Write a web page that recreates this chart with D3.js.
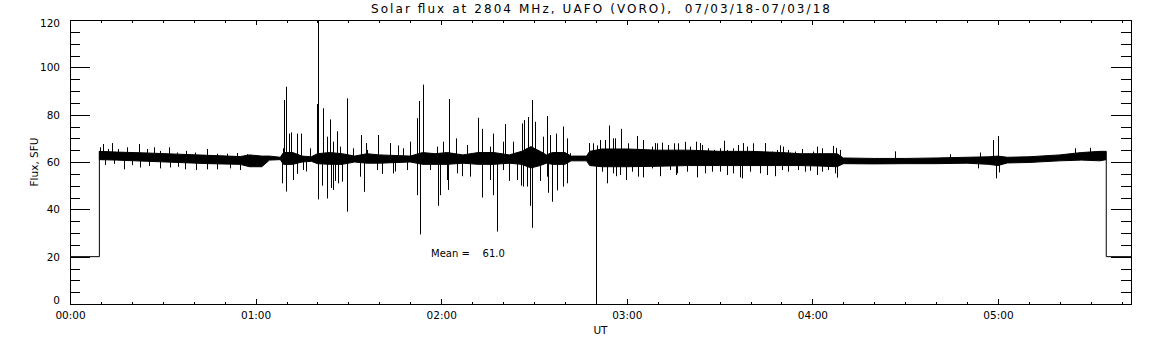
<!DOCTYPE html>
<html>
<head>
<meta charset="utf-8">
<script src="https://cdn.jsdelivr.net/npm/d3@7"></script>
<style>
  body { margin: 0; background: white; }
  text { font-family: "DejaVu Sans", sans-serif; fill: black; }
</style>
</head>
<body>
<div id="chart"></div>
<script>
// Chart values (time in minutes after 00:00 UT, flux in SFU)
const titleText = 'Solar flux at 2804 MHz, UAFO (VORO),  07/03/18-07/03/18';
const yTitle = 'Flux, SFU',
      xTitle = 'UT';
const meanValue = 61.0;

const xMajor = [0, 60, 120, 180, 240, 300];
const yMajor = [0, 20, 40, 60, 80, 100, 120];

// level of the signal before the start and after the end of the recording
const offLevel = 20;
const recStart = 9.5,
      recEnd = 335;

// envelope of the dense core of the noise
const bandMin  = [9.5, 15, 25, 35, 45, 55, 58, 62, 64.5, 68, 69, 72, 75, 78, 80, 84, 88, 92, 96, 100, 110, 114, 118, 122, 127, 132, 137, 142, 146, 149, 152, 154, 156, 160, 162, 167, 168, 172, 180, 190, 200, 210, 220, 230, 236, 242, 248, 250, 260, 270, 280, 290, 297, 300, 303, 310, 320, 327, 333, 335];
const bandLow  = [61, 60.8, 60.3, 59.8, 59.3, 59, 58, 58, 60.8, 61, 59, 59, 60, 60.3, 59.3, 59, 59, 60, 59.5, 59.5, 60, 59, 59, 59, 59.5, 59, 59, 59.5, 59, 57.5, 58.5, 59.5, 59, 59, 60.5, 60.5, 58.5, 58, 58, 58.2, 58.5, 58.5, 58.5, 58.5, 58.5, 58.3, 58, 59.3, 59.2, 59.3, 59.3, 59.5, 59, 58.5, 59.6, 59.8, 60.5, 60.8, 60.5, 61];
const bandHigh = [64.5, 64.2, 63.8, 63.3, 62.8, 62.3, 63, 62.5, 62.5, 62, 64, 64, 62.5, 62.2, 63.5, 64, 63.5, 62.5, 63.5, 63, 62.5, 64, 63.5, 64, 63, 64, 64, 63, 64.5, 66.5, 64.5, 63, 64, 64, 62.5, 62.5, 64.5, 65.5, 65.5, 65, 65, 64.5, 64.5, 64, 63.5, 63.5, 63.5, 61.7, 61.5, 61.5, 61.7, 62, 62.2, 62.5, 62, 62.2, 63, 64, 64.5, 64.5];

// spikes above the core
const upTime  = [
  9.7, 10.6, 12.4, 13.5, 15.6, 18.3, 22.4, 24.8, 27.2, 29.1, 32.1, 34.5, 37.5, 40.4, 44.2, 47.4, 50.7, 53.9, 57.1,
  69.0, 69.3, 69.9, 70.8, 71.6, 73.4, 74.7, 77.6, 79.8, 80.1, 80.3, 81.7, 83.0, 84.1, 85.1, 86.2, 87.3, 89.7, 91.6,
  94.0, 95.6, 95.9, 99.6, 103.5, 106, 107.8, 109.9, 112.2, 112.9, 114.1, 118.6, 120.7, 122.6, 124.8, 128.3, 132.0,
  133.2, 135.8, 136.8, 140.1, 140.7, 143.3, 146.0, 146.9, 148.1, 149.5, 150.3, 153.0, 154.2, 155.2, 157.1, 159.5,
  160.7, 161.7, 167.8, 169.2, 170.4, 171.3, 173.0, 174.3, 175.6, 176.2, 178.1, 180.5, 183.2, 185.4, 188.1, 189.1,
  189.7, 191.3, 193.4, 195.1, 196.7, 198.8, 200.4, 202.4, 203.7, 204.2, 206.4, 208.2, 210.1, 211.4, 212.3, 214.4,
  216.1, 217.6, 218.8, 220.9, 224.2, 224.7, 226.9, 228.5, 229.5, 230.6, 231.7, 232.2, 232.8, 234.4, 236.6, 238.7,
  240.3, 241.5, 243.0, 244.6, 246.7, 247.7, 248.9, 266.7, 284.5, 294.2, 298.4, 300.1, 325, 329.8];
const upValue = [
  66.2, 67.6, 65.5, 68, 65.5, 66.2, 67.6, 65.5, 66.2, 64.7, 66.2, 64, 64.7, 64, 65.5, 63.5, 63.5, 63.8, 63.3,
  65.8, 86.2, 91.8, 72, 72.5, 72, 72, 65.8, 84.5, 120, 84, 82.7, 70.7, 78, 68.6, 73, 66.5, 86.9, 65.8,
  71.4, 68, 65.1, 71.4, 68, 67, 65.8, 68.6, 78.5, 85.8, 92.7, 66.5, 68.6, 86.6, 70, 67.2, 78.7,
  74, 66.5, 72, 68.6, 76, 68.6, 76.3, 77.7, 79, 86.2, 77, 70.7, 79.4, 71.4, 72, 75,
  70, 63.7, 68, 67.9, 67, 69.3, 69.3, 75.4, 70, 70, 74, 67.9, 71, 69.3, 66.5, 68,
  67.9, 68.2, 67.2, 67.9, 67.9, 68.5, 66.5, 68.6, 68, 67.2, 65.8, 65.1, 65.8, 69, 65.1, 65.8,
  67.2, 68, 66.5, 67.9, 63.7, 68, 64.4, 65.1, 67, 66.5, 63.7, 65.1, 63.9, 64.4, 65.5, 63.7,
  64.4, 66.5, 65.8, 63.7, 66.8, 66, 65.1, 64.5, 63.3, 64, 69.3, 71, 65.8, 66];

// spikes below the core
const downTime  = [
  11.3, 14.2, 17.5, 19.9, 22.6, 25.6, 29.1, 32.3, 35, 37.2, 40.7, 44.2, 47.4, 51.7, 55,
  68.6, 69.8, 72.2, 73.4, 75.4, 76.3, 80.3, 81.4, 81.5, 83.2, 84.4, 85.1, 85.7, 86.7, 87.9, 89.7, 93.8, 95.1,
  99.2, 100.9, 104.5, 105.1, 108.9, 112.2, 113.3, 116.4, 119.1, 119.6, 121.8, 122.3, 125.0, 126.7, 129.3,
  133.1, 135.8, 136.7, 138.1, 140.1, 141.9, 144.4, 145.8, 146.6, 147.8, 148.8, 149.5, 152, 154.1, 154.5,
  155.9, 157.4, 159.5, 160.6, 170.2, 171.9, 173.7, 175.7, 176.5, 177.8, 179.8, 181.6, 183.7, 185.3, 188.1,
  190.7, 194.0, 195.9, 196.1, 199.4, 202.6, 202.7, 205.3, 207.5, 210.1, 212.3, 214.4, 216.6, 217.2, 219.8,
  223.1, 225.2, 227.9, 230.1, 232.2, 235.5, 237.6, 239.2, 241.5, 243.0, 245.2, 247.3, 247.9, 293.5, 299.3, 300.4];
const downValue = [
  58.7, 59.2, 56.9, 58.7, 57.7, 58.3, 57.3, 57.7, 58, 56.9, 56.6, 56.9, 56.9, 57.3, 56.6,
  51, 47.5, 52.4, 55, 56.6, 56, 44.2, 52.4, 50, 44.6, 49, 48.2, 52, 51, 51.7, 39, 53.8, 47.4,
  56.6, 55, 55.2, 56, 56.6, 46, 29.4, 56.6, 41.5, 46, 52.4, 48.2, 55.2, 54, 53.8,
  45, 52.4, 46, 30.6, 56.6, 52, 52.4, 50, 49.6, 49.6, 41.5, 32.2, 52, 53.8, 47,
  43.2, 48, 49.6, 51, 0, 55.9, 51, 55.2, 54, 54.5, 52.4, 55.9, 53.8, 53.5, 57.3,
  54, 56.6, 54.5, 55.2, 55.9, 53.8, 53.5, 55.2, 55.9, 55.9, 54.5, 55.2, 53.5, 53.1, 55.9,
  55.2, 54.5, 54, 56.6, 55.9, 56.6, 55.9, 56.3, 54.5, 55.9, 56.6, 55.2, 53.4, 57.3, 53.1, 55.6];

const width = 1152,
      height = 345;
const margin = { top: 20, right: 21, bottom: 41, left: 70 };

const svg = d3.select('#chart').append('svg')
    .attr('width', width)
    .attr('height', height)
    .style('background', 'white');

const x = d3.scaleLinear()
    .domain([0, 343])
    .range([margin.left, width - margin.right]);

const y = d3.scaleLinear()
    .domain([0, 120])
    .range([height - margin.bottom, margin.top]);

const hhmm = m => d3.format('02d')(Math.floor(m / 60)) + ':' + d3.format('02d')(m % 60);

// minor tick positions
const xMinor = d3.range(0, 343, 10).filter(d => d % 60 !== 0);
const yMinor = d3.range(0, 121, 5).filter(d => d % 20 !== 0);

// Trace: off level, noise core, spikes
const band = bandMin.map((m, i) => ({ m: m, lo: bandLow[i], hi: bandHigh[i] }));

svg.append('path')
    .datum(band)
    .attr('fill', 'black')
    .attr('stroke', 'black')
    .attr('stroke-width', 1)
    .attr('d', d3.area().x(d => x(d.m)).y0(d => y(d.lo)).y1(d => y(d.hi)));

const line = d3.line().x(d => x(d[0])).y(d => y(d[1]));
svg.append('path')
    .attr('fill', 'none')
    .attr('stroke', 'black')
    .attr('d', line([[0, offLevel], [recStart, offLevel], [recStart, bandHigh[0]]]));
svg.append('path')
    .attr('fill', 'none')
    .attr('stroke', 'black')
    .attr('d', line([[recEnd, bandLow[bandLow.length - 1]], [recEnd, offLevel], [343, offLevel]]));

const spikes = upTime.map((t, i) => [t, upValue[i]])
    .concat(downTime.map((t, i) => [t, downValue[i]]));

svg.append('g')
    .selectAll('line').data(spikes)
    .enter().append('line')
        .attr('x1', d => Math.round(x(d[0])) + 0.5)
        .attr('x2', d => Math.round(x(d[0])) + 0.5)
        .attr('y1', y(meanValue))
        .attr('y2', d => y(d[1]))
        .attr('stroke', 'black')
        .attr('stroke-width', 1);

// Axes
function axisG(axis, tx, ty) {
    return svg.append('g')
        .attr('transform', `translate(${tx},${ty})`)
        .style('font-family', '"DejaVu Sans", sans-serif')
        .style('font-size', '10.5px')
        .attr('shape-rendering', 'crispEdges')
        .call(axis)
        .call(g => g.select('.domain').remove());
}

const x0 = x.range()[0], x1 = x.range()[1];
const y0 = y.range()[0], y1 = y.range()[1];

// bottom
axisG(d3.axisBottom(x).tickValues(xMajor).tickSize(-5).tickPadding(8).tickFormat(hhmm), 0, y0);
axisG(d3.axisBottom(x).tickValues(xMinor).tickSize(-2.5).tickFormat(''), 0, y0);
// top
axisG(d3.axisTop(x).tickValues(xMajor).tickSize(-5).tickFormat(''), 0, y1);
axisG(d3.axisTop(x).tickValues(xMinor).tickSize(-2.5).tickFormat(''), 0, y1);
// left
const left = axisG(d3.axisLeft(y).tickValues(yMajor).tickSize(-20).tickPadding(10), x0, 0);
left.selectAll('.tick text').attr('dy', d => d === 0 ? '-0.05em' : (d === 120 ? '0.62em' : '0.32em'));
axisG(d3.axisLeft(y).tickValues(yMinor).tickSize(-10).tickFormat(''), x0, 0);
// right
axisG(d3.axisRight(y).tickValues(yMajor).tickSize(-20).tickFormat(''), x1, 0);
axisG(d3.axisRight(y).tickValues(yMinor).tickSize(-10).tickFormat(''), x1, 0);

svg.selectAll('.tick line').attr('stroke', 'black');

// frame
svg.append('rect')
    .attr('x', x0 + 0.5)
    .attr('y', y1 + 0.5)
    .attr('width', x1 - x0)
    .attr('height', y0 - y1)
    .attr('fill', 'none')
    .attr('stroke', 'black');

// Texts
svg.append('text')
    .attr('x', (x0 + x1) / 2)
    .attr('y', 13)
    .attr('text-anchor', 'middle')
    .attr('font-size', '12px')
    .attr('textLength', 459)
    .attr('lengthAdjust', 'spacing')
    .style('white-space', 'pre')
    .text(titleText);

svg.append('text')
    .attr('transform', `translate(38, ${(y0 + y1) / 2}) rotate(-90)`)
    .attr('text-anchor', 'middle')
    .attr('font-size', '10.5px')
    .text(yTitle);

svg.append('text')
    .attr('x', (x0 + x1) / 2)
    .attr('y', 334)
    .attr('text-anchor', 'middle')
    .attr('font-size', '10.5px')
    .text(xTitle);

svg.append('text')
    .attr('x', 431)
    .attr('y', 257)
    .attr('font-size', '10px')
    .style('white-space', 'pre')
    .text('Mean =    ' + d3.format('.1f')(meanValue));
</script>
</body>
</html>
